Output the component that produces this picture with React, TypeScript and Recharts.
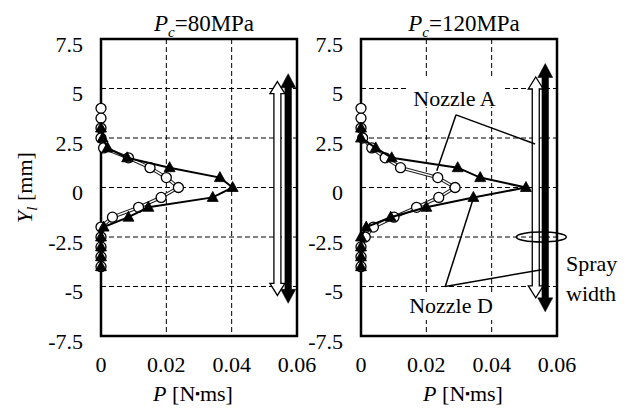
import React from "react";
import {
  ScatterChart,
  Scatter,
  XAxis,
  YAxis,
  CartesianGrid,
  ReferenceLine,
  ReferenceDot,
  ReferenceArea,
  Label,
} from "recharts";

const FONT = "'Liberation Serif', 'Times New Roman', serif";

const yTicks = [-7.5, -5, -2.5, 0, 2.5, 5, 7.5];
const pTicks = [0, 0.02, 0.04, 0.06];

// measuring positions across the spray (mm)
const yNozzleA = [4, 3.5, 3, 2.5, 2, 1.5, 1, 0.5, 0, -0.5, -1, -1.5, -2, -2.5, -3, -3.5, -4];
const yNozzleD = [3, 2.5, 2, 1.5, 1, 0.5, 0, -0.5, -1, -1.5, -2, -2.5, -3, -3.5, -4];

// P [N·ms], Pc = 80 MPa
const pA80 = [0, 0, 0, 0, 0.0008, 0.0084, 0.015, 0.02, 0.0237, 0.0184, 0.0115, 0.0035, 0, 0, 0, 0, 0];
const pD80 = [0, 0.0005, 0.002, 0.008, 0.021, 0.0364, 0.0403, 0.0342, 0.0145, 0.0084, 0.0008, 0, 0, 0, 0];

// P [N·ms], Pc = 120 MPa
const pA120 = [0, 0, 0, 0.0005, 0.0033, 0.0074, 0.0121, 0.0235, 0.0288, 0.0238, 0.017, 0.0101, 0.0038, 0.0013, 0, 0, 0];
const pD120 = [0, 0, 0.0045, 0.0094, 0.0296, 0.0365, 0.0505, 0.0344, 0.02, 0.0091, 0.0016, 0, 0, 0, 0];

// spray width (bottom, top) in mm
const sprayA80 = [-5.45, 5.35];
const sprayD80 = [-5.85, 5.75];
const sprayA120 = [-5.57, 5.58];
const sprayD120 = [-6.28, 6.26];

const toPoints = (ys: number[], ps: number[]) => ys.map((y, i) => ({ p: ps[i], y }));

const arrowPath = (x: number, top: number, bottom: number, s: number, h: number, l: number) =>
  `M${x},${top} L${x + h},${top + l} L${x + s},${top + l} L${x + s},${bottom - l} L${x + h},${bottom - l} L${x},${bottom} L${x - h},${bottom - l} L${x - s},${bottom - l} L${x - s},${top + l} L${x - h},${top + l} Z`;

const HollowArrow = (props: any) => {
  const { x1, y1, y2 } = props;
  return (
    <path
      d={arrowPath(x1, Math.min(y1, y2), Math.max(y1, y2), 3.5, 7.5, 12)}
      fill="#fff"
      stroke="#000"
      strokeWidth={1.3}
    />
  );
};

const SolidArrow = (props: any) => {
  const { x1, y1, y2 } = props;
  return (
    <path
      d={arrowPath(x1, Math.min(y1, y2), Math.max(y1, y2), 3.3, 7.5, 14)}
      fill="#000"
      stroke="#000"
      strokeWidth={0.5}
    />
  );
};

const OpenCircle = (props: any) => (
  <circle cx={props.cx} cy={props.cy} r={5} fill="#fff" stroke="#000" strokeWidth={1.3} />
);

const FilledTriangle = (props: any) => {
  const { cx, cy } = props;
  return (
    <polygon
      points={`${cx},${cy - 6} ${cx + 5.5},${cy + 4} ${cx - 5.5},${cy + 4}`}
      fill="#000"
      stroke="#000"
      strokeWidth={0.8}
    />
  );
};

const NoDot = () => <g />;

function YTick({ x, y, payload }: any) {
  return (
    <text x={x} y={y + 12.5} textAnchor="end" fontFamily={FONT} fontSize={22} fill="#000">
      {payload.value}
    </text>
  );
}

function XTick({ x, y, payload }: any) {
  return (
    <text x={x} y={y + 35.5} textAnchor="middle" fontFamily={FONT} fontSize={22} fill="#000">
      {payload.value}
    </text>
  );
}

const xTitle = (dx: number) => (props: any) => {
  const vb = props.viewBox;
  return (
    <text
      x={vb.x + vb.width / 2 + dx}
      y={vb.y + 65}
      textAnchor="middle"
      fontFamily={FONT}
      fontSize={22}
      fill="#000"
    >
      <tspan fontStyle="italic">P</tspan>
      <tspan> [N</tspan>
      <tspan fontSize={13} dy={-3}>▪</tspan>
      <tspan dy={3}>ms]</tspan>
    </text>
  );
};

const yTitle = (props: any) => {
  const vb = props.viewBox;
  return (
    <text
      transform={`translate(32, ${vb.y + vb.height / 2}) rotate(-90)`}
      textAnchor="middle"
      fontFamily={FONT}
      fontSize={22}
      fill="#000"
    >
      <tspan fontStyle="italic">Y</tspan>
      <tspan fontStyle="italic" fontSize={15} dy={5}>l</tspan>
      <tspan dy={-5}> [mm]</tspan>
    </text>
  );
};

const leader = { stroke: "#000", strokeWidth: 1.5 };

interface PanelProps {
  width: number;
  margin: { top: number; right: number; bottom: number; left: number };
  a: { p: number; y: number }[];
  d: { p: number; y: number }[];
  sprayA: number[];
  sprayD: number[];
  arrowX: [number, number];
  titleDx: number;
  showYTitle?: boolean;
  children?: React.ReactNode;
}

function Panel({ width, margin, a, d, sprayA, sprayD, arrowX, titleDx, showYTitle, children }: PanelProps) {
  return (
    <ScatterChart width={width} height={410} margin={margin}>
      <CartesianGrid stroke="#000" strokeDasharray="5 3" strokeWidth={1} />
      <XAxis
        type="number"
        dataKey="p"
        domain={[0, 0.06]}
        ticks={pTicks}
        interval={0}
        tick={<XTick />}
        tickSize={0}
        tickMargin={0}
        axisLine={false}
        tickLine={false}
        height={60}
      >
        <Label content={xTitle(titleDx)} />
      </XAxis>
      <YAxis
        type="number"
        dataKey="y"
        domain={[-7.5, 7.5]}
        ticks={yTicks}
        interval={0}
        tick={<YTick />}
        tickSize={0}
        tickMargin={18}
        axisLine={false}
        tickLine={false}
        width={60}
      >
        {showYTitle ? <Label content={yTitle} /> : null}
      </YAxis>
      <ReferenceLine
        segment={[{ x: arrowX[0], y: sprayA[0] }, { x: arrowX[0], y: sprayA[1] }]}
        shape={HollowArrow}
      />
      <ReferenceLine
        segment={[{ x: arrowX[1], y: sprayD[0] }, { x: arrowX[1], y: sprayD[1] }]}
        shape={SolidArrow}
      />
      {children}
      <Scatter
        data={a}
        line={{ stroke: "#222", strokeWidth: 3.5 }}
        lineType="joint"
        shape={NoDot}
        isAnimationActive={false}
      />
      <Scatter
        data={a}
        line={{ stroke: "#fff", strokeWidth: 1.4 }}
        lineType="joint"
        shape={OpenCircle}
        isAnimationActive={false}
      />
      <Scatter
        data={d}
        line={{ stroke: "#000", strokeWidth: 2 }}
        lineType="joint"
        shape={FilledTriangle}
        isAnimationActive={false}
      />
      <ReferenceArea
        x1={0}
        x2={0.06}
        y1={-7.5}
        y2={7.5}
        fill="none"
        stroke="#000"
        strokeWidth={2.5}
      />
    </ScatterChart>
  );
}

const textStyle: React.CSSProperties = {
  position: "absolute",
  fontFamily: FONT,
  fontSize: 22,
  color: "#000",
  whiteSpace: "nowrap",
};

function Title({ center, pressure }: { center: number; pressure: string }) {
  return (
    <div style={{ ...textStyle, left: center - 80, width: 160, top: 12, lineHeight: "23px", fontSize: 23, textAlign: "center" }}>
      <span style={{ fontStyle: "italic" }}>P</span>
      <span style={{ fontStyle: "italic", fontSize: 15, position: "relative", top: 6 }}>c</span>
      <span>={pressure}</span>
    </div>
  );
}

export default function App() {
  return (
    <div style={{ position: "absolute", left: 0, top: 0, width: 636, height: 410, background: "#fff" }}>
      <div style={{ position: "absolute", left: 0, top: 0 }}>
        <Panel
          width={336}
          margin={{ top: 39, right: 39, bottom: 14, left: 41 }}
          a={toPoints(yNozzleA, pA80)}
          d={toPoints(yNozzleD, pD80)}
          sprayA={sprayA80}
          sprayD={sprayD80}
          arrowX={[0.054, 0.0573]}
          titleDx={-6}
          showYTitle
        />
      </div>
      <div style={{ position: "absolute", left: 300, top: 0 }}>
        <Panel
          width={336}
          margin={{ top: 39, right: 79, bottom: 14, left: 1 }}
          a={toPoints(yNozzleA, pA120)}
          d={toPoints(yNozzleD, pD120)}
          sprayA={sprayA120}
          sprayD={sprayD120}
          arrowX={[0.0535, 0.0564]}
          titleDx={4}
        >
          <ReferenceLine segment={[{ x: 0.0232, y: 0.84 }, { x: 0.0291, y: 3.67 }]} {...leader} />
          <ReferenceLine segment={[{ x: 0.0291, y: 3.67 }, { x: 0.0533, y: 2.2 }]} {...leader} />
          <ReferenceLine segment={[{ x: 0.0343, y: -0.59 }, { x: 0.0258, y: -5.0 }]} {...leader} />
          <ReferenceLine segment={[{ x: 0.0258, y: -5.0 }, { x: 0.0553, y: -4.15 }]} {...leader} />
          <ReferenceDot
            x={0.0552}
            y={-2.5}
            shape={(p: any) => (
              <ellipse cx={p.cx} cy={p.cy} rx={25} ry={5} fill="none" stroke="#000" strokeWidth={1.5} />
            )}
          />
        </Panel>
      </div>
      <Title center={204} pressure="80MPa" />
      <Title center={464} pressure="120MPa" />
      <div style={{ ...textStyle, left: 406, top: 77, width: 97, height: 30, background: "#fff" }}>
        <div style={{ position: "absolute", left: 0, width: 97, top: 6.6, lineHeight: "30px", textAlign: "center" }}>
          Nozzle A
        </div>
      </div>
      <div style={{ ...textStyle, left: 404, top: 292, width: 94, height: 28, background: "#fff" }}>
        <div style={{ position: "absolute", left: 0, width: 94, top: -1.4, lineHeight: "30px", textAlign: "center" }}>
          Nozzle D
        </div>
      </div>
      <div style={{ ...textStyle, left: 566, top: 249, lineHeight: "30px" }}>
        Spray
        <br />
        width
      </div>
    </div>
  );
}
